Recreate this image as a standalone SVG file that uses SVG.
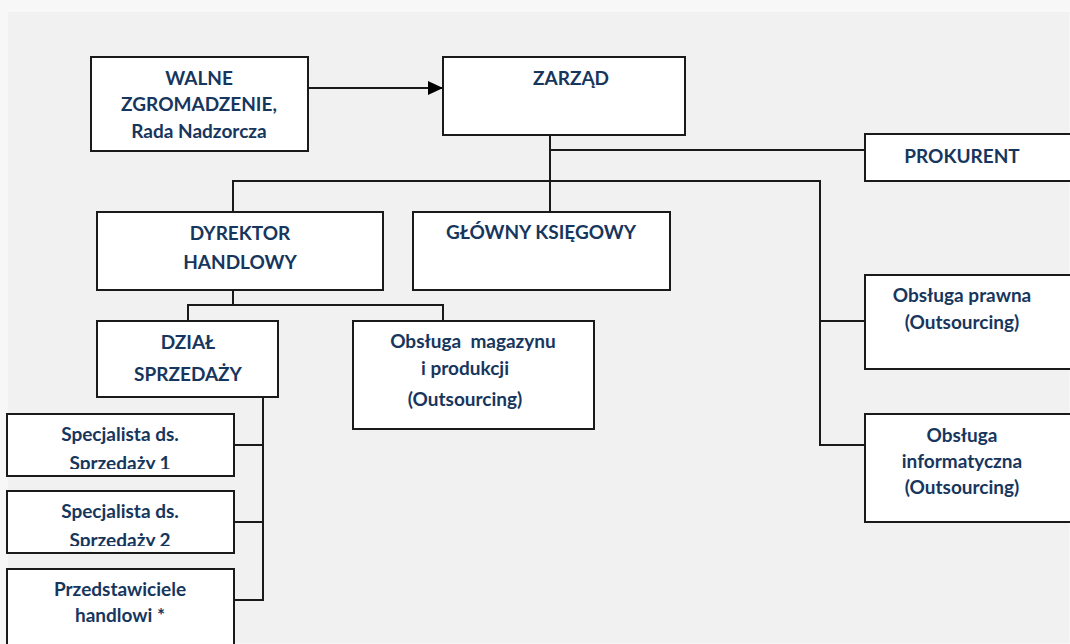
<svg xmlns="http://www.w3.org/2000/svg" width="1070" height="644" viewBox="0 0 1070 644">
<defs>
<style>
.box{fill:#fff;stroke:#1a1a1a;stroke-width:2}
.ln{fill:none;stroke:#1a1a1a;stroke-width:2}
text{font-family:Lato,"Open Sans","Liberation Sans",sans-serif;font-weight:bold;font-size:19px;fill:#17365d;text-anchor:middle}
</style>
<marker id="arr" markerWidth="16" markerHeight="16" refX="15" refY="7" orient="auto" markerUnits="userSpaceOnUse">
<path d="M0,0 L15,7 L0,14 Z" fill="#000"/>
</marker>
<clipPath id="c1"><rect x="7" y="414" width="227" height="55"/></clipPath>
<clipPath id="c2"><rect x="7" y="491" width="227" height="55"/></clipPath>
</defs>
<rect x="0" y="0" width="1070" height="644" fill="#f7f7f7"/>
<rect x="7" y="11" width="1063" height="633" fill="#f1f1f1" stroke="#fbfbfb" stroke-width="1"/>
<g id="connectors">
<line class="ln" x1="308" y1="88" x2="443" y2="88" marker-end="url(#arr)"/>
<polyline class="ln" points="550,135 550,212"/>
<polyline class="ln" points="550,150 865,150"/>
<polyline class="ln" points="233,212 233,181 820,181 820,445 865,445"/>
<polyline class="ln" points="820,321 865,321"/>
<polyline class="ln" points="233,290 233,305"/>
<polyline class="ln" points="188,321 188,305 443,305 443,321"/>
<polyline class="ln" points="263,397 263,600 234,600"/>
<polyline class="ln" points="263,445 234,445"/>
<polyline class="ln" points="263,522 234,522"/>
</g>
<g id="walne"><rect class="box" x="91" y="57" width="217" height="94"/>
<text x="199" y="85">WALNE</text><text x="199" y="111">ZGROMADZENIE,</text><text x="199" y="138">Rada Nadzorcza</text></g>
<g id="zarzad"><rect class="box" x="443" y="57" width="242" height="78"/><text x="571" y="85">ZARZĄD</text></g>
<g id="prokurent"><rect class="box" x="865" y="134" width="215" height="47"/><text x="962" y="163">PROKURENT</text></g>
<g id="dyrektor"><rect class="box" x="97" y="212" width="286" height="78"/>
<text x="240" y="240">DYREKTOR</text><text x="240" y="269">HANDLOWY</text></g>
<g id="ksiegowy"><rect class="box" x="413" y="212" width="257" height="78"/><text x="541" y="239">GŁÓWNY KSIĘGOWY</text></g>
<g id="dzial"><rect class="box" x="97" y="321" width="181" height="76"/>
<text x="188" y="349">DZIAŁ</text><text x="188" y="381">SPRZEDAŻY</text></g>
<g id="magazyn"><rect class="box" x="353" y="321" width="241" height="108"/>
<text x="473" y="348" xml:space="preserve">Obsługa  magazynu</text><text x="465" y="375">i produkcji</text><text x="465" y="406">(Outsourcing)</text></g>
<g id="prawna"><rect class="box" x="865" y="275" width="215" height="94"/>
<text x="962" y="302">Obsługa prawna</text><text x="962" y="329">(Outsourcing)</text></g>
<g id="informatyczna"><rect class="box" x="865" y="414" width="215" height="108"/>
<text x="962" y="442">Obsługa</text><text x="962" y="468">informatyczna</text><text x="962" y="494">(Outsourcing)</text></g>
<g id="spec1"><rect class="box" x="7" y="414" width="227" height="62"/>
<text x="120" y="441">Specjalista ds.</text><text x="120" y="470" clip-path="url(#c1)">Sprzedaży 1</text></g>
<g id="spec2"><rect class="box" x="7" y="491" width="227" height="62"/>
<text x="120" y="518">Specjalista ds.</text><text x="120" y="547" clip-path="url(#c2)">Sprzedaży 2</text></g>
<g id="przedst"><rect class="box" x="7" y="569" width="227" height="90"/>
<text x="120" y="596">Przedstawiciele</text><text x="120" y="622">handlowi *</text></g>
</svg>
